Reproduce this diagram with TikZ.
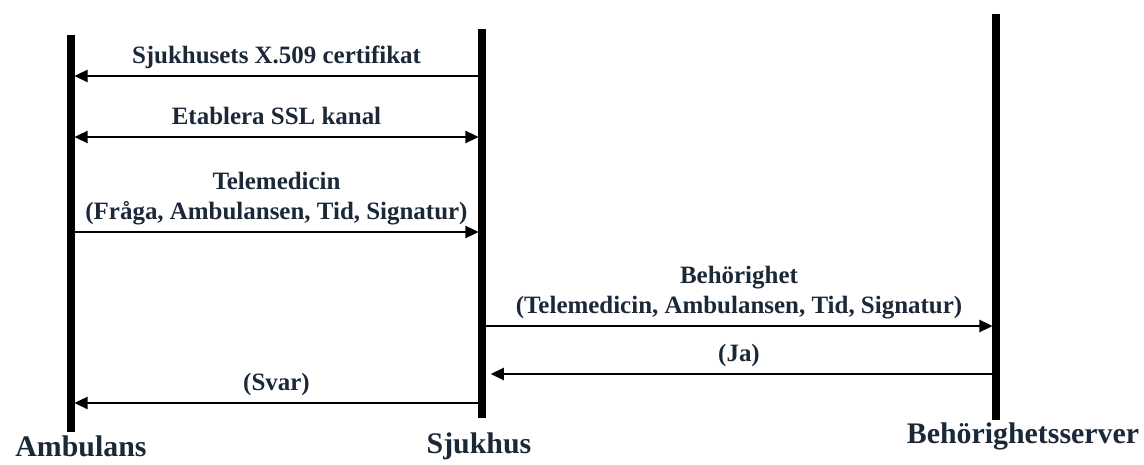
\documentclass[tikz,border=0pt]{standalone}
\usepackage{fontspec}
\setmainfont{Liberation Serif}
\usepackage{xcolor}
\usetikzlibrary{arrows.meta}

\definecolor{labelnavy}{HTML}{1B2838}

\begin{document}
\begin{tikzpicture}[x=0.02cm, y=-0.02cm,
    lifeline/.style={line width=4pt},
    msg/.style={line width=1.1pt, -{Triangle[length=7.5pt, width=7pt]}, shorten >=2pt},
    msglabel/.style={font=\bfseries\fontsize{14.2}{17}\selectfont, text=labelnavy, align=center, inner sep=0pt, anchor=base, yshift=7pt},
    partlabel/.style={font=\bfseries\fontsize{17}{20}\selectfont, text=labelnavy, anchor=base, inner sep=0pt}]

    \useasboundingbox (0,0) rectangle (1144,465);

    % Lifelines
    \coordinate (amb top) at (71,35);
    \coordinate (amb bot) at (71,432);
    \coordinate (sjh top) at (482,29);
    \coordinate (sjh bot) at (482,418);
    \coordinate (srv top) at (996,14);
    \coordinate (srv bot) at (996,420);
    \draw[lifeline] (amb top) -- (amb bot);
    \draw[lifeline] (sjh top) -- (sjh bot);
    \draw[lifeline] (srv top) -- (srv bot);

    % Parties
    \node[partlabel] (amb) at (81,457) {Ambulans};
    \node[partlabel] (sjh) at (479,454) {Sjukhus};
    \node[partlabel] (srv) at (1023,444) {Behörighetsserver};

    % Message end points
    \foreach \n/\y in {1/76, 2/137, 3/232, 6/403} {
        \coordinate (amb \n) at (71,\y);
        \coordinate (sjh \n) at (482,\y);
    }
    \foreach \n/\y in {4/326, 5/374} {
        \coordinate (sjh \n) at (482,\y);
        \coordinate (srv \n) at (996,\y);
    }

    % Messages
    \draw[msg] (sjh 1) -- (amb 1) node[midway, msglabel] (m1) {Sjukhusets X.509 certifikat};
    \draw[msg, {Triangle[length=7.5pt, width=7pt]}-{Triangle[length=7.5pt, width=7pt]}, shorten <=2pt] (amb 2) -- (sjh 2)
        node[midway, msglabel] (m2) {Etablera SSL kanal};
    \draw[msg] (amb 3) -- (sjh 3) node[midway, msglabel] (m3) {Telemedicin\\(Fråga, Ambulansen, Tid, Signatur)};
    \draw[msg] (sjh 4) -- (srv 4) node[midway, msglabel] (m4) {Behörighet\\(Telemedicin, Ambulansen, Tid, Signatur)};
    \draw[msg, shorten >=5pt] (srv 5) -- (sjh 5) node[midway, msglabel] (m5) {(Ja)};
    \draw[msg] (sjh 6) -- (amb 6) node[midway, msglabel] (m6) {(Svar)};
\end{tikzpicture}
\end{document}
